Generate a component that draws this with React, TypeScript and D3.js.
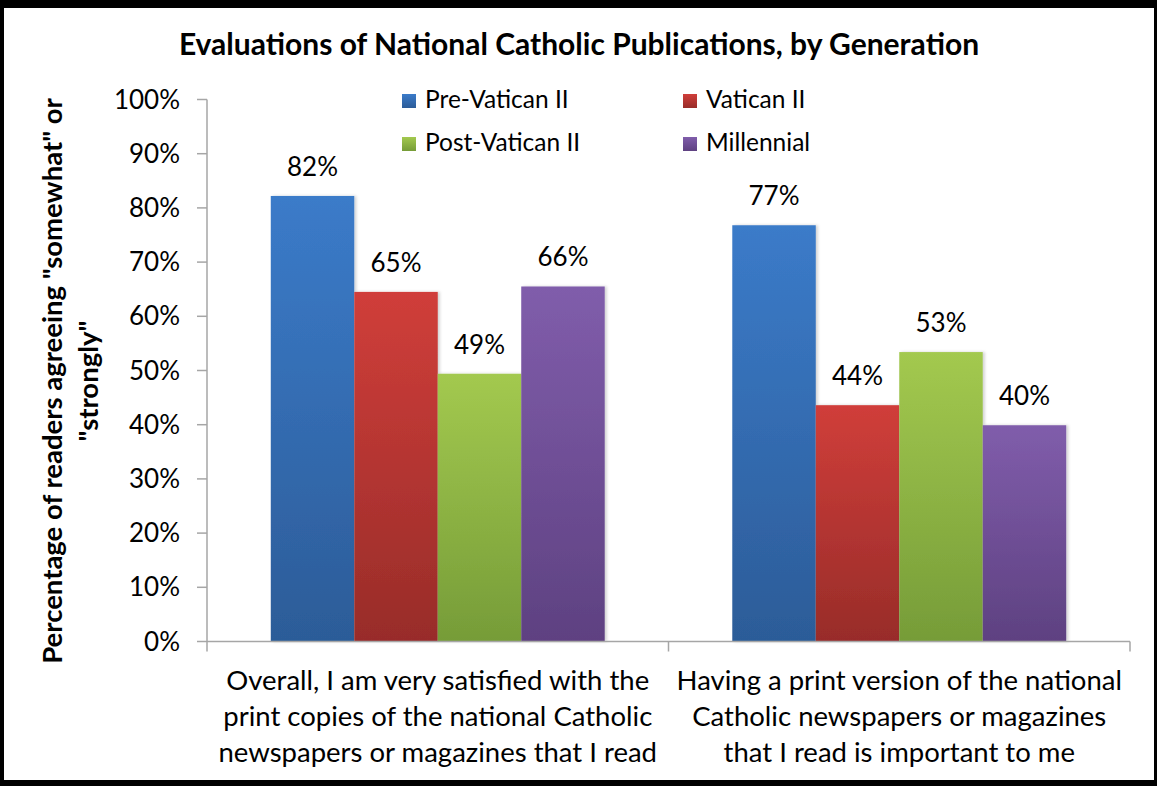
import React from "react";
import * as d3 from "d3";

const W = 1157;
const H = 786;

const TITLE = "Evaluations of National Catholic Publications, by Generation";
const Y_TITLE_LINES = ['Percentage of readers agreeing "somewhat" or', '"strongly"'];

const categories = ["cat1", "cat2"];
const categoryLabels = [
  ["Overall, I am very satisfied with the", "print copies of the national Catholic", "newspapers or magazines that I read"],
  ["Having a print version of the national", "Catholic newspapers or magazines", "that I read is important to me"],
];
const seriesNames = ["Pre-Vatican II", "Vatican II", "Post-Vatican II", "Millennial"];
const preVatican = [82.2, 76.8];
const vatican = [64.5, 43.6];
const postVatican = [49.4, 53.4];
const millennial = [65.5, 39.9];
const seriesValues = [preVatican, vatican, postVatican, millennial];
const yTicks = [0, 10, 20, 30, 40, 50, 60, 70, 80, 90, 100];

const topColors = ["#3b7bc9", "#d03e3a", "#a3c94f", "#805dab"];
const bottomColors = ["#2c5c98", "#982c29", "#769c38", "#5e4181"];

const FONT = "Lato, 'Open Sans', sans-serif";

export default function App() {
  const left = 207;
  const right = 1130;
  const top = 99.5;
  const bottom = 641.5;

  const y = d3.scaleLinear().domain([0, 100]).range([bottom, top]);
  const x0 = d3.scaleBand<string>().domain(categories).range([left, right]).paddingInner(0).paddingOuter(0);
  const x1 = d3
    .scaleBand<string>()
    .domain(seriesNames)
    .range([0, x0.bandwidth()])
    .paddingInner(0)
    .paddingOuter(0.764);

  const legendPos = [
    { x: 402, y: 108 },
    { x: 683, y: 108 },
    { x: 402, y: 151 },
    { x: 683, y: 151 },
  ];

  return (
    <svg
      width={W}
      height={H}
      style={{ position: "absolute", left: 0, top: 0, display: "block" }}
      fontFamily={FONT}
    >
      <defs>
        {seriesNames.map((s, i) => (
          <linearGradient key={s} id={`g${i}`} x1="0" y1="0" x2="0" y2="1">
            <stop offset="0%" stopColor={topColors[i]} />
            <stop offset="100%" stopColor={bottomColors[i]} />
          </linearGradient>
        ))}
        <filter id="shadow" x="-10%" y="-10%" width="130%" height="120%">
          <feDropShadow dx="2" dy="0" stdDeviation="1.5" floodColor="#000" floodOpacity="0.18" />
        </filter>
      </defs>

      {/* frame */}
      <rect x={0} y={0} width={W} height={H} fill="#000" />
      <rect x={4} y={8} width={1150} height={772} fill="#fff" />

      {/* title */}
      <text x={579} y={55} textAnchor="middle" fontSize={30} fontWeight="bold" fill="#000">
        {TITLE}
      </text>

      {/* y axis title */}
      <g transform={`translate(0, 381) rotate(-90)`}>
        {Y_TITLE_LINES.map((line, i) => (
          <text key={i} x={0} y={62 + i * 36} textAnchor="middle" fontSize={27.5} fontWeight="bold" fill="#000">
            {line}
          </text>
        ))}
      </g>

      {/* bars */}
      {categories.map((c, ci) => (
        <g key={c} transform={`translate(${x0(c)},0)`}>
          {seriesNames.map((s, si) => {
            const v = seriesValues[si][ci];
            return (
              <rect
                key={s}
                x={x1(s)}
                y={y(v)}
                width={x1.bandwidth()}
                height={y(0) - y(v)}
                fill={`url(#g${si})`}
                filter="url(#shadow)"
              />
            );
          })}
          {seriesNames.map((s, si) => {
            const v = seriesValues[si][ci];
            return (
              <text
                key={s + "t"}
                x={(x1(s) as number) + x1.bandwidth() / 2}
                y={y(v) - 20}
                textAnchor="middle"
                fontSize={26}
                fill="#000"
              >
                {`${Math.round(v)}%`}
              </text>
            );
          })}
        </g>
      ))}

      {/* y axis */}
      <line x1={left} x2={left} y1={top} y2={bottom} stroke="#a6a6a6" strokeWidth={1.5} />
      {yTicks.map((t) => (
        <g key={t}>
          <line x1={left - 10} x2={left} y1={y(t)} y2={y(t)} stroke="#a6a6a6" strokeWidth={1.5} />
          <text x={180} y={y(t)} dy="0.35em" textAnchor="end" fontSize={26} fill="#000">
            {`${t}%`}
          </text>
        </g>
      ))}

      {/* x axis */}
      <line x1={left} x2={right} y1={bottom} y2={bottom} stroke="#a6a6a6" strokeWidth={1.5} />
      {[left, ...categories.map((c) => (x0(c) as number) + x0.bandwidth())].map((px, i) => (
        <line key={i} x1={px} x2={px} y1={bottom} y2={bottom + 10} stroke="#a6a6a6" strokeWidth={1.5} />
      ))}
      {categories.map((c, ci) => (
        <g key={c + "lab"}>
          {categoryLabels[ci].map((line, li) => (
            <text
              key={li}
              x={(x0(c) as number) + x0.bandwidth() / 2}
              y={690 + li * 36}
              textAnchor="middle"
              fontSize={27.5}
              fill="#000"
            >
              {line}
            </text>
          ))}
        </g>
      ))}

      {/* legend */}
      {seriesNames.map((s, i) => (
        <g key={s + "leg"}>
          <rect x={legendPos[i].x} y={legendPos[i].y - 14} width={14} height={14} fill={`url(#g${i})`} />
          <text x={legendPos[i].x + 23} y={legendPos[i].y} fontSize={24.5} fill="#000">
            {s}
          </text>
        </g>
      ))}
    </svg>
  );
}
